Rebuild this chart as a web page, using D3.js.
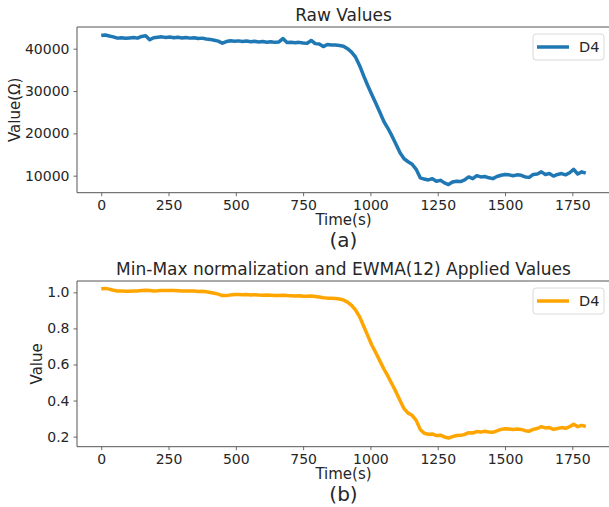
<!DOCTYPE html>
<html>
<head>
<meta charset="utf-8">
<script src="https://cdn.jsdelivr.net/npm/d3@7"></script>
<style>
  body { margin: 0; background: #fff; }
  text { font-family: "DejaVu Sans", sans-serif; fill: #262626; }
</style>
</head>
<body>
<div id="chart"></div>
<script>
// sample times (s), one reading every 15 s
var times = d3.range(0, 1801, 15);

var rawValues = [
  43100, 43250, 43000, 42800, 42500, 42600, 42450, 42550, 42650, 42500,
  42900, 43050, 42100, 42600, 42700, 42800, 42650, 42750, 42600, 42700,
  42550, 42650, 42500, 42600, 42400, 42500, 42300, 42200, 42000, 41800,
  41300, 41700, 41900, 41750, 41850, 41700, 41800, 41650, 41750, 41600,
  41700, 41550, 41650, 41500, 41600, 42400, 41450, 41550, 41400, 41500,
  41350, 41300, 41950, 41200, 41100, 40500, 41000, 40900, 40850, 40750,
  40600, 40000, 39200, 38000, 36000, 33600, 31300, 29200, 27100, 25000,
  22800, 21200, 19400, 17400, 15400, 14000, 13300, 12700, 11500, 9500,
  9200, 9000, 9300, 8700, 8900, 8300, 7900, 8500, 8700, 8600,
  9000, 9700, 9300, 10000, 9700, 9800, 9500, 9300, 9800, 10100,
  10300, 10200, 10000, 10200, 10100, 9700, 9600, 10300, 10400, 10900,
  10300, 10500, 9900, 10300, 10500, 10200, 10700, 11500, 10400, 10900,
  10600
];

var ewmaValues = [
  1.020, 1.022, 1.018, 1.012, 1.008, 1.007, 1.006, 1.006, 1.007, 1.008,
  1.010, 1.012, 1.010, 1.008, 1.009, 1.011, 1.010, 1.011, 1.010, 1.009,
  1.008, 1.008, 1.007, 1.007, 1.005, 1.006, 1.003, 0.999, 0.995, 0.990,
  0.982, 0.982, 0.986, 0.988, 0.988, 0.987, 0.988, 0.986, 0.987, 0.985,
  0.984, 0.986, 0.984, 0.982, 0.983, 0.984, 0.982, 0.981, 0.980, 0.981,
  0.979, 0.978, 0.980, 0.977, 0.974, 0.970, 0.968, 0.967, 0.966, 0.963,
  0.958, 0.946, 0.928, 0.902, 0.864, 0.812, 0.760, 0.708, 0.665, 0.620,
  0.575, 0.535, 0.492, 0.448, 0.400, 0.355, 0.330, 0.318, 0.290, 0.240,
  0.218, 0.213, 0.215, 0.206, 0.208, 0.198, 0.192, 0.200, 0.206, 0.207,
  0.212, 0.222, 0.220, 0.228, 0.225, 0.230, 0.226, 0.224, 0.232, 0.240,
  0.244, 0.242, 0.240, 0.242, 0.240, 0.233, 0.230, 0.240, 0.245, 0.255,
  0.248, 0.250, 0.240, 0.245, 0.250, 0.246, 0.255, 0.268, 0.255, 0.262,
  0.256
];

var xTicks = [0, 250, 500, 750, 1000, 1250, 1500, 1750];
var rawTicks = [10000, 20000, 30000, 40000];
var ewmaTicks = [0.2, 0.4, 0.6, 0.8, 1.0];

var width = 609;
var height = 507;

var svg = d3.select("#chart")
    .append("svg")
    .attr("width", width)
    .attr("height", height);

function drawPanel(opts) {
    var x = d3.scaleLinear().domain([-90, 1890]).range([77, 610]);
    var y = d3.scaleLinear().domain(opts.yDomain).range([opts.bottom, opts.top]);

    var g = svg.append("g");

    // x axis
    var xa = g.append("g")
        .attr("transform", "translate(0," + opts.bottom + ")")
        .call(d3.axisBottom(x).tickValues(xTicks).tickSize(3.5).tickPadding(4).tickFormat(d3.format("d")));
    // y axis
    var ya = g.append("g")
        .attr("transform", "translate(77,0)")
        .call(d3.axisLeft(y).tickValues(opts.yTicks).tickSize(3.5).tickPadding(4).tickFormat(opts.fmt));

    [xa, ya].forEach(function (a) {
        a.select(".domain").remove();
        a.selectAll(".tick line").attr("stroke", "#444").attr("stroke-width", 0.8);
        a.selectAll(".tick text").style("font-size", "14px").attr("fill", "#262626");
    });

    // spines (left, top, bottom)
    g.append("path")
        .attr("d", "M610," + opts.top + "H77V" + opts.bottom + "H610")
        .attr("fill", "none")
        .attr("stroke", "#555")
        .attr("stroke-width", 1);

    var line = d3.line()
        .x(function (d, i) { return x(times[i]); })
        .y(function (d) { return y(d); });

    g.append("path")
        .datum(opts.values)
        .attr("d", line)
        .attr("fill", "none")
        .attr("stroke", opts.color)
        .attr("stroke-width", 3.5)
        .attr("stroke-linejoin", "round");

    // title
    g.append("text")
        .attr("x", 343.5)
        .attr("y", opts.top - 6)
        .attr("text-anchor", "middle")
        .style("font-size", "17px")
        .text(opts.title);

    // x label + panel tag
    g.append("text")
        .attr("x", 343.5)
        .attr("y", opts.bottom + 32)
        .attr("text-anchor", "middle")
        .style("font-size", "15px")
        .text("Time(s)");

    g.append("text")
        .attr("x", 343.5)
        .attr("y", opts.bottom + 54)
        .attr("text-anchor", "middle")
        .style("font-size", "20px")
        .text(opts.tag);

    // y label
    g.append("text")
        .attr("transform", "translate(" + opts.yLabelX + "," + ((opts.top + opts.bottom) / 2) + ") rotate(-90)")
        .attr("text-anchor", "middle")
        .attr("dy", "0.35em")
        .style("font-size", "15px")
        .text(opts.yLabel);

    // legend
    var lg = g.append("g").attr("transform", "translate(533," + (opts.top + 7) + ")");
    lg.append("rect")
        .attr("width", 71)
        .attr("height", 26)
        .attr("rx", 3)
        .attr("fill", "#fff")
        .attr("fill-opacity", 0.8)
        .attr("stroke", "#d9d9d9");
    lg.append("line")
        .attr("x1", 4).attr("x2", 36)
        .attr("y1", 13).attr("y2", 13)
        .attr("stroke", opts.color)
        .attr("stroke-width", 3.5);
    lg.append("text")
        .attr("x", 46)
        .attr("y", 13)
        .attr("dy", "0.35em")
        .style("font-size", "14.5px")
        .text("D4");
}

drawPanel({
    top: 27, bottom: 192.7,
    yDomain: [5980, 45130],
    yTicks: rawTicks,
    fmt: d3.format("d"),
    values: rawValues,
    color: "#1f77b4",
    title: "Raw Values",
    yLabel: "Value(\u03a9)",
    yLabelX: 15,
    tag: "(a)"
});

drawPanel({
    top: 281, bottom: 446.7,
    yDomain: [0.144, 1.063],
    yTicks: ewmaTicks,
    fmt: d3.format(".1f"),
    values: ewmaValues,
    color: "#ffa500",
    title: "Min-Max normalization and EWMA(12) Applied Values",
    yLabel: "Value",
    yLabelX: 37,
    tag: "(b)"
});
</script>
</body>
</html>
